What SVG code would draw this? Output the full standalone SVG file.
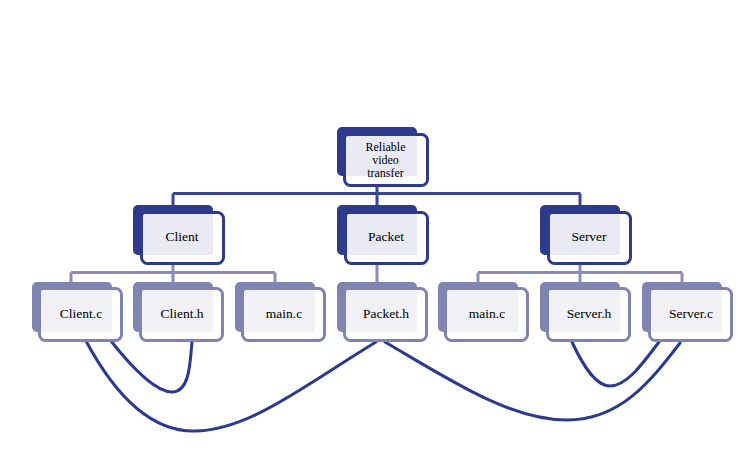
<svg xmlns="http://www.w3.org/2000/svg" width="739" height="460" viewBox="0 0 739 460">
<style>
.bg{fill:#ffffff}
.bus1{fill:none;stroke:#3a4593;stroke-width:3}
.bus2{fill:none;stroke:#8a8db8;stroke-width:3}
.curve{fill:none;stroke:#2c3a8e;stroke-width:3;stroke-linecap:round}
.d1{fill:#2e3a8c}
.f1{fill:#ffffff;stroke:#2e3a8c;stroke-width:3}
.l1{fill:#e9eaf3}
.d2{fill:#8084b0}
.f2{fill:#ffffff;stroke:#8084b0;stroke-width:3}
.l2{fill:#f1f1f6}
.t{font-size:13.5px;fill:#000000;text-anchor:middle}
.rt{font-size:12px}
</style>
<rect class="bg" x="0" y="0" width="739" height="460"/>
<g id="connectors">
<path class="bus1" d="M377,186 V193.5 M173,193.5 H580.5 M173,193.5 V205 M377,193.5 V205 M580,193.5 V205"/>
<path class="bus2" d="M173,265 V272.5 M71,272.5 H275 M71,272.5 V282 M173,272.5 V282 M275,272.5 V282"/>
<path class="bus2" d="M377,265 V282"/>
<path class="bus2" d="M580,265 V272.5 M478,272.5 H682 M478,272.5 V282 M580,272.5 V282 M682,272.5 V282"/>
<path class="curve" d="M86,341 C115,395 150,432 195,431 C250,430 305,385 376,342"/>
<path class="curve" d="M111,341 C130,365 155,392 172,392 C190,392 190,362 192,342"/>
<path class="curve" d="M385,342 C450,380 510,420 567,420 C620,420 650,382 680,343"/>
<path class="curve" d="M572,342 C585,370 597,386 610,386 C628,386 645,360 659,342"/>
</g>
<g font-family="'Liberation Serif', 'DejaVu Serif', serif">
<g id="node-root">
<rect class="d1" x="337" y="127" width="80" height="49" rx="5"/>
<rect class="f1" x="344.5" y="134.5" width="83" height="51" rx="6"/>
<rect class="l1" x="346" y="136" width="71" height="40" rx="2"/>
<text class="t rt" x="385.5" y="150.5">Reliable</text>
<text class="t rt" x="385.5" y="163.5">video</text>
<text class="t rt" x="385.5" y="176.5">transfer</text>
</g>
<g id="node-client">
<rect class="d1" x="133" y="205" width="80" height="50" rx="5"/>
<rect class="f1" x="141.5" y="212.5" width="82" height="51" rx="6"/>
<rect class="l1" x="143" y="214" width="70" height="41" rx="2"/>
<text class="t" x="182" y="241">Client</text>
</g>
<g id="node-packet">
<rect class="d1" x="337" y="205" width="80" height="50" rx="5"/>
<rect class="f1" x="345.5" y="212.5" width="82" height="51" rx="6"/>
<rect class="l1" x="347" y="214" width="70" height="41" rx="2"/>
<text class="t" x="386" y="241">Packet</text>
</g>
<g id="node-server">
<rect class="d1" x="540" y="205" width="80" height="50" rx="5"/>
<rect class="f1" x="548.5" y="212.5" width="82" height="51" rx="6"/>
<rect class="l1" x="550" y="214" width="70" height="41" rx="2"/>
<text class="t" x="589" y="241">Server</text>
</g>
<g id="node-client-c">
<rect class="d2" x="32" y="282" width="80" height="50" rx="5"/>
<rect class="f2" x="39.5" y="288.5" width="82" height="52" rx="6"/>
<rect class="l2" x="41" y="290" width="71" height="42" rx="2"/>
<text class="t" x="81" y="318">Client.c</text>
</g>
<g id="node-client-h">
<rect class="d2" x="133" y="282" width="80" height="50" rx="5"/>
<rect class="f2" x="140.5" y="288.5" width="82" height="52" rx="6"/>
<rect class="l2" x="142" y="290" width="71" height="42" rx="2"/>
<text class="t" x="182" y="318">Client.h</text>
</g>
<g id="node-main-c-1">
<rect class="d2" x="235" y="282" width="80" height="50" rx="5"/>
<rect class="f2" x="242.5" y="288.5" width="82" height="52" rx="6"/>
<rect class="l2" x="244" y="290" width="71" height="42" rx="2"/>
<text class="t" x="284" y="318">main.c</text>
</g>
<g id="node-packet-h">
<rect class="d2" x="337" y="282" width="80" height="50" rx="5"/>
<rect class="f2" x="344.5" y="288.5" width="82" height="52" rx="6"/>
<rect class="l2" x="346" y="290" width="71" height="42" rx="2"/>
<text class="t" x="386" y="318">Packet.h</text>
</g>
<g id="node-main-c-2">
<rect class="d2" x="438" y="282" width="80" height="50" rx="5"/>
<rect class="f2" x="445.5" y="288.5" width="82" height="52" rx="6"/>
<rect class="l2" x="447" y="290" width="71" height="42" rx="2"/>
<text class="t" x="487" y="318">main.c</text>
</g>
<g id="node-server-h">
<rect class="d2" x="540" y="282" width="80" height="50" rx="5"/>
<rect class="f2" x="547.5" y="288.5" width="82" height="52" rx="6"/>
<rect class="l2" x="549" y="290" width="71" height="42" rx="2"/>
<text class="t" x="589" y="318">Server.h</text>
</g>
<g id="node-server-c">
<rect class="d2" x="642" y="282" width="80" height="50" rx="5"/>
<rect class="f2" x="649.5" y="288.5" width="82" height="52" rx="6"/>
<rect class="l2" x="651" y="290" width="71" height="42" rx="2"/>
<text class="t" x="691" y="318">Server.c</text>
</g>
</g>
</svg>
